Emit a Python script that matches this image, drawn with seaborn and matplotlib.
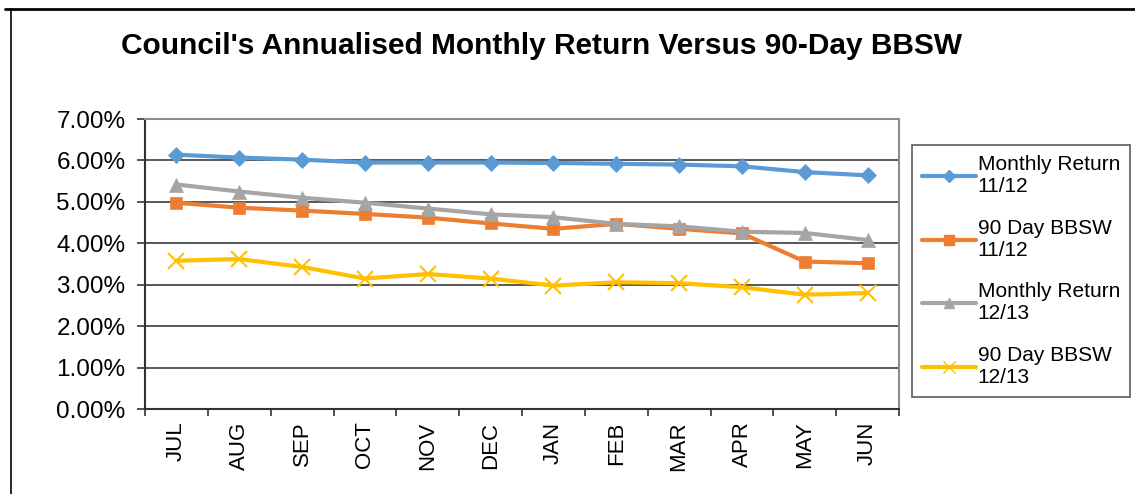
import pandas as pd
import seaborn as sns
import matplotlib.pyplot as plt
from matplotlib.lines import Line2D
from matplotlib.ticker import FuncFormatter, FixedLocator

# Values (percent)
months = ["JUL", "AUG", "SEP", "OCT", "NOV", "DEC", "JAN", "FEB", "MAR", "APR", "MAY", "JUN"]
monthly_return_1112 = [6.14, 6.07, 6.02, 5.95, 5.95, 5.95, 5.94, 5.92, 5.90, 5.86, 5.72, 5.64]
bbsw_1112 = [4.98, 4.86, 4.79, 4.71, 4.62, 4.48, 4.35, 4.47, 4.35, 4.24, 3.56, 3.52]
monthly_return_1213 = [5.42, 5.25, 5.10, 4.98, 4.84, 4.70, 4.63, 4.47, 4.41, 4.28, 4.25, 4.08]
bbsw_1213 = [3.58, 3.62, 3.43, 3.15, 3.26, 3.15, 2.98, 3.06, 3.04, 2.94, 2.76, 2.80]
series_names = ["Monthly Return\n11/12", "90 Day BBSW\n11/12", "Monthly Return\n12/13", "90 Day BBSW\n12/13"]

colors = ["#5B9BD5", "#ED7D31", "#A5A5A5", "#FFC000"]
markers = ["D", "s", "^", "x"]
msizes = [8, 9, 10, 12]

frames = []
for name, vals in zip(series_names, [monthly_return_1112, bbsw_1112, monthly_return_1213, bbsw_1213]):
    frames.append(pd.DataFrame({"month": range(len(months)), "value": vals, "series": name}))
df = pd.concat(frames)

sns.set_style("white")
plt.rcParams["font.family"] = ["Liberation Sans", "DejaVu Sans"]
plt.rcParams["text.color"] = "black"
plt.rcParams["xtick.color"] = "black"
plt.rcParams["ytick.color"] = "black"

fig = plt.figure(figsize=(11.35, 4.94), dpi=100)
ax = fig.add_axes([0.1278, 0.172, 0.6643, 0.587])

for name, c, m, ms in zip(series_names, colors, markers, msizes):
    sub = df[df["series"] == name]
    sns.lineplot(data=sub, x="month", y="value", ax=ax, color=c, marker=m,
                 markersize=ms, linewidth=3, markeredgecolor=c,
                 markeredgewidth=1.5 if m == "x" else 0.5, legend=False)

ax.set_xlim(-0.5, 11.5)
ax.set_ylim(0, 7)
ax.set_xticks(range(len(months)))
ax.set_xticklabels(months, rotation=90, fontsize=16)
ax.xaxis.set_minor_locator(FixedLocator([i + 0.5 for i in range(-1, 12)]))
ax.tick_params(axis="x", which="major", length=0, pad=9)
ax.tick_params(axis="x", which="minor", length=5, width=1.2, color="#333333", direction="out", bottom=True)
ax.set_yticks(range(8))
ax.yaxis.set_major_formatter(FuncFormatter(lambda v, p: f"{v:.2f}%"))
ax.tick_params(axis="y", length=6, width=1.2, color="#333333", direction="out", labelsize=17.5, pad=8, left=True)
ax.set_xlabel("")
ax.set_ylabel("")
ax.grid(axis="y", color="#4a4a4a", linewidth=1.3)
ax.set_axisbelow(True)
for s in ["left", "bottom"]:
    ax.spines[s].set_color("#333333")
    ax.spines[s].set_linewidth(1.5)
for s in ["top", "right"]:
    ax.spines[s].set_color("#8c8c8c")
    ax.spines[s].set_linewidth(1.5)

handles = [Line2D([0], [0], color=c, marker=m, markersize=ms * 0.75, linewidth=3, markeredgecolor=c)
           for c, m, ms in zip(colors, markers, msizes)]
leg = fig.legend(handles, series_names, loc="upper left", bbox_to_anchor=(0.8035, 0.7065),
                 fontsize=15, frameon=True, fancybox=False, edgecolor="#333333",
                 handlelength=2.55, handletextpad=0.1, labelspacing=1.08, borderpad=0.5,
                 borderaxespad=0)
leg.get_frame().set_linewidth(1.2)

fig.text(0.4775, 0.907, "Council's Annualised Monthly Return Versus 90-Day BBSW",
         ha="center", va="center", fontsize=21.5, fontweight="bold")

# outer chart frame (top and left edges visible)
fig.add_artist(Line2D([0.0044, 1.0], [0.981, 0.981], color="black", linewidth=2, transform=fig.transFigure))
fig.add_artist(Line2D([0.0097, 0.0097], [0.0, 0.981], color="black", linewidth=1.2, transform=fig.transFigure))

fig.savefig("out.png", dpi=100)
